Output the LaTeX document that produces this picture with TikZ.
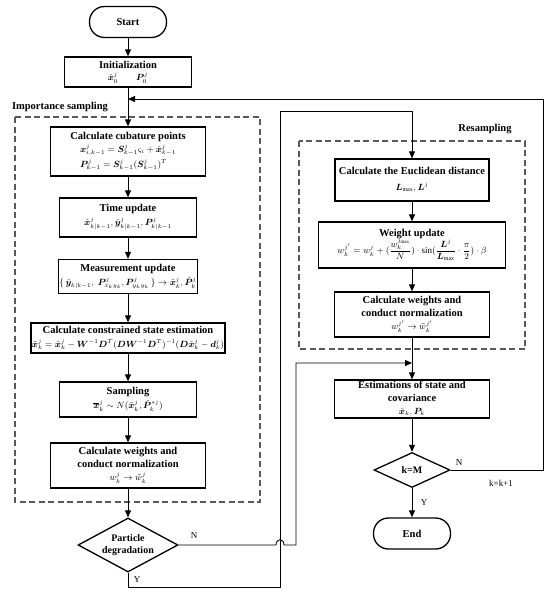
\documentclass[tikz,border=0pt]{standalone}
\usepackage{amsmath,bm}
\usepackage{fontspec}
\setmainfont{Liberation Serif}
\usetikzlibrary{arrows.meta,shapes.geometric}
\newcommand\mymath[1]{{\fontsize{9}{11}\selectfont$#1$}}
\begin{document}
\begin{tikzpicture}[x=1pt,y=-1pt,
  box/.style={draw, line width=1.3pt, align=center, inner sep=1pt, font=\fontsize{10.5}{13}\selectfont\bfseries},
  term/.style={box, rounded corners=15pt, minimum width=77pt, minimum height=31pt},
  dec/.style={draw, line width=1.3pt, diamond, align=center, inner sep=0pt, font=\fontsize{10}{12}\selectfont\bfseries},
  arr/.style={line width=0.9pt, -{Triangle[length=7pt,width=6pt]}},
  conn/.style={line width=0.9pt},
  dbox/.style={line width=1.1pt, dash pattern=on 6pt off 3.5pt, gray!70!black},
  lbl/.style={font=\fontsize{9}{10}\selectfont, inner sep=0pt},
  sect/.style={font=\fontsize{10.5}{12}\selectfont\bfseries, inner sep=0pt}]
\useasboundingbox (0,0) rectangle (550,594);

% dashed groups
\draw[dbox] (15,117) rectangle (260,502);
\draw[dbox] (299,141) rectangle (525,349);
\node[sect] (imp) at (60,107) {Importance sampling};
\node[sect] (res) at (485,129) {Resampling};

% left column
\node[term] (start) at (128,22) {Start};
\node[box, minimum width=127pt, minimum height=30pt] (init) at (128,72)
  {Initialization\\\mymath{\hat{\bm x}_0^j\qquad \bm P_0^j}};
\node[box, minimum width=155pt, minimum height=49pt] (cub) at (128,151.5)
  {Calculate cubature points\\[1pt]
   \begin{tabular}{@{}l@{}}\mymath{\bm x^j_{i,k-1}=\bm S^j_{k-1}\varsigma_i+\hat{\bm x}^j_{k-1}}\\[2pt]
   \mymath{\bm P^j_{k-1}=\bm S^j_{k-1}(\bm S^j_{k-1})^T}\end{tabular}};
\node[box, minimum width=137pt, minimum height=39pt] (tu) at (128,217.5)
  {Time update\\[1pt]\mymath{\hat{\bm x}^j_{k|k-1},\hat{\bm y}^j_{k|k-1},\bm P^j_{k|k-1}}};
\node[box, minimum width=137pt, minimum height=34pt] (mu) at (128,276.5)
  {Measurement update\\[1pt]\mymath{\{\,\hat{\bm y}_{k|k-1},\ \bm P^j_{x_ky_k},\bm P^j_{y_ky_k}\,\}\rightarrow\hat{\bm x}^j_k,\hat{\bm P}^j_k}};
\node[box, minimum width=184pt, minimum height=30pt] (cs) at (128,338)
  {Calculate constrained state estimation\\[1pt]\mymath{\tilde{\bm x}^j_k=\hat{\bm x}^j_k-\bm W^{-1}\bm D^T(\bm D\bm W^{-1}\bm D^T)^{-1}(\bm D\hat{\bm x}^j_k-\bm d^j_k)}};
\node[box, minimum width=137pt, minimum height=35pt] (sa) at (128,399.5)
  {Sampling\\[1pt]\mymath{\overline{\bm x}^j_k\sim N(\tilde{\bm x}^j_k,\hat{\bm P}^{*j}_k)}};
\node[box, minimum width=155pt, minimum height=45pt] (wl) at (128,465.5)
  {Calculate weights and\\conduct normalization\\\mymath{w^j_k\rightarrow\tilde w^j_k}};
\node[dec, aspect=1.85, minimum width=100pt, minimum height=54pt] (pd) at (128,545) {Particle\\degradation};

% right column
\node[box, minimum width=154pt, minimum height=42pt] (eu) at (412,180)
  {Calculate the Euclidean distance\\[3pt]\mymath{\bm L_{\max},\bm L^j}};
\node[box, minimum width=187pt, minimum height=46pt] (wu) at (412,245)
  {Weight update\\[-1pt]\mymath{w^{j'}_k=w^j_k+(\dfrac{w^{j_{\max}}_k}{N})\cdot\sin(\dfrac{\bm L^j}{\bm L_{\max}}\cdot\dfrac{\pi}{2})\cdot\beta}};
\node[box, minimum width=155pt, minimum height=45pt] (wr) at (412,314.5)
  {Calculate weights and\\conduct normalization\\\mymath{w^{j'}_k\rightarrow\tilde w^{j'}_k}};
\node[box, minimum width=155pt, minimum height=38pt] (es) at (412,399)
  {Estimations of state and\\covariance\\\mymath{\hat{\bm x}_k,\bm P_k}};
\node[dec, aspect=2.17, minimum width=76pt, minimum height=35pt] (km) at (412,470) {k=M};
\node[term] (end) at (412,533.5) {End};

% labels
\node[lbl] (ln1) at (194,536) {N};
\node[lbl] (ly1) at (137,580) {Y};
\node[lbl] (ln2) at (459,463) {N};
\node[lbl] (kk) at (501,483) {k=k+1};
\node[lbl] (ly2) at (424,503) {Y};

% main flow
\draw[arr] (start) -- (init);
\draw[arr] (init) -- (cub);
\draw[arr] (cub) -- (tu);
\draw[arr] (tu) -- (mu);
\draw[arr] (mu) -- (cs);
\draw[arr] (cs) -- (sa);
\draw[arr] (sa) -- (wl);
\draw[arr] (wl) -- (pd);
\draw[arr] (eu) -- (wu);
\draw[arr] (wu) -- (wr);
\draw[arr] (wr) -- (es);
\draw[arr] (es) -- (km);
\draw[arr] (km) -- (end);

% loop back k=k+1
\coordinate (r1) at (543,470);
\coordinate (r2) at (543,99);
\coordinate (r3) at (128,99);
\draw[arr] (km.east) -- (r1) -- (r2) -- (r3);

% Y: resampling
\coordinate (y1) at (128,587);
\coordinate (y2) at (280,587);
\coordinate (y3) at (280,111);
\coordinate (y4) at (412,111);
\draw[arr] (pd.south) -- (y1) -- (y2) -- (y3) -- (y4) -- (eu.north);

% N: skip resampling
\coordinate (h1) at (276,545);
\coordinate (h2) at (284,545);
\coordinate (n1) at (296,545);
\coordinate (n2) at (296,363);
\coordinate (n3) at (412,363);
\draw[arr] (pd.east) -- (h1) .. controls (276,538) and (284,538) .. (h2) -- (n1) -- (n2) -- (n3);
\end{tikzpicture}
\end{document}
